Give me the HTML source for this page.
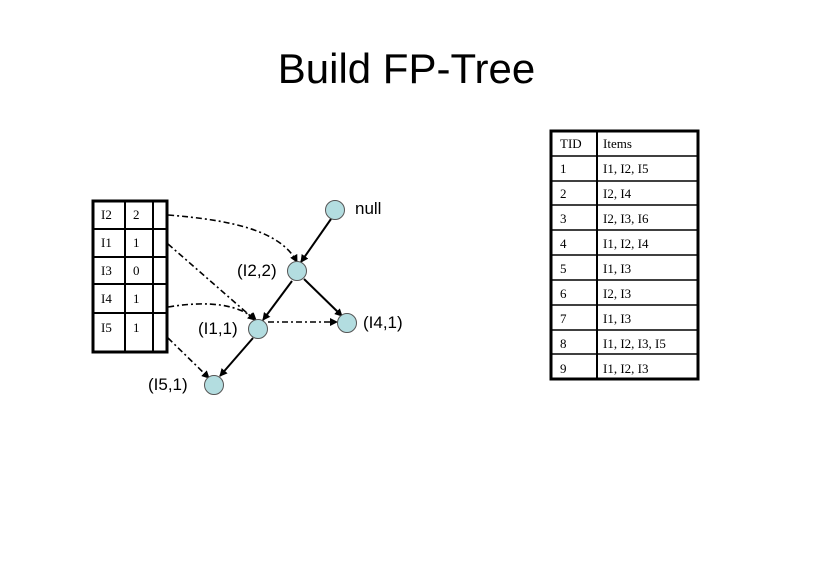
<!DOCTYPE html>
<html><head><style>
body{margin:0;background:#fff;width:813px;height:566px;overflow:hidden;position:relative;font-family:"Liberation Sans",sans-serif}
.t{position:absolute;white-space:nowrap}
.s{font-family:"Liberation Serif",serif;font-size:13px}
</style></head><body>
<div class="t" style="left:0;width:813px;text-align:center;top:45px;font-size:42px">Build FP-Tree</div>
<svg width="813" height="566" style="position:absolute;left:0;top:0">
<defs><marker id="a" markerWidth="8" markerHeight="8" refX="7" refY="4" orient="auto" markerUnits="userSpaceOnUse"><path d="M0,0L8,4L0,8z" fill="#000"/></marker></defs>
<!-- left table -->
<g stroke="#000" fill="none">
<rect x="93" y="201" width="74" height="151" stroke-width="3"/>
<line x1="125" y1="201" x2="125" y2="352" stroke-width="2"/>
<line x1="153" y1="201" x2="153" y2="352" stroke-width="2"/>
<line x1="93" y1="229" x2="167" y2="229" stroke-width="2"/>
<line x1="93" y1="257" x2="167" y2="257" stroke-width="2"/>
<line x1="93" y1="284" x2="167" y2="284" stroke-width="2"/>
<line x1="93" y1="313" x2="167" y2="313" stroke-width="2"/>
</g>
<!-- right table -->
<g stroke="#000" fill="none">
<rect x="551" y="131" width="147" height="248" stroke-width="3"/>
<line x1="597" y1="131" x2="597" y2="379" stroke-width="2"/>
<g stroke-width="1.5">
<line x1="551" y1="156" x2="698" y2="156"/><line x1="551" y1="181" x2="698" y2="181"/>
<line x1="551" y1="205" x2="698" y2="205"/><line x1="551" y1="230" x2="698" y2="230"/>
<line x1="551" y1="255" x2="698" y2="255"/><line x1="551" y1="280" x2="698" y2="280"/>
<line x1="551" y1="305" x2="698" y2="305"/><line x1="551" y1="330" x2="698" y2="330"/>
<line x1="551" y1="354" x2="698" y2="354"/>
</g></g>
<!-- solid edges -->
<g stroke="#000" stroke-width="2" fill="none" marker-end="url(#a)">
<line x1="331" y1="219" x2="301" y2="262"/>
<line x1="304" y1="279" x2="342" y2="316"/>
<line x1="292" y1="281" x2="263" y2="320"/>
<line x1="253" y1="338" x2="220" y2="376"/>
</g>
<!-- dashed -->
<g stroke="#000" stroke-width="1.6" fill="none" stroke-dasharray="6,3,2,3" marker-end="url(#a)">
<path d="M168,215 C230,220 280,230 297,262"/>
<line x1="168" y1="244" x2="255" y2="320"/>
<path d="M168,307 C210,300 240,305 256,320"/>
<line x1="268" y1="322" x2="337" y2="322"/>
<line x1="168" y1="338" x2="209" y2="378"/>
</g>
<g fill="#b3dde0" stroke="#555" stroke-width="1">
<circle cx="335" cy="210" r="9.5"/><circle cx="297" cy="271" r="9.5"/>
<circle cx="258" cy="329" r="9.5"/><circle cx="347" cy="323" r="9.5"/>
<circle cx="214" cy="385" r="9.5"/>
</g>
</svg>
<div class="t s" style="left:101px;top:207px">I2</div><div class="t s" style="left:133px;top:207px">2</div>
<div class="t s" style="left:101px;top:235px">I1</div><div class="t s" style="left:133px;top:235px">1</div>
<div class="t s" style="left:101px;top:263px">I3</div><div class="t s" style="left:133px;top:263px">0</div>
<div class="t s" style="left:101px;top:291px">I4</div><div class="t s" style="left:133px;top:291px">1</div>
<div class="t s" style="left:101px;top:320px">I5</div><div class="t s" style="left:133px;top:320px">1</div>
<div class="t" style="left:355px;top:199px;font-size:17px">null</div>
<div class="t" style="left:237px;top:261px;font-size:17px">(I2,2)</div>
<div class="t" style="left:198px;top:319px;font-size:17px">(I1,1)</div>
<div class="t" style="left:363px;top:313px;font-size:17px">(I4,1)</div>
<div class="t" style="left:148px;top:375px;font-size:17px">(I5,1)</div>
<div class="s t" style="left:560px;top:136px">TID</div><div class="s t" style="left:603px;top:136px">Items</div>
<div class="s t" style="left:560px;top:161px">1</div><div class="s t" style="left:603px;top:161px">I1, I2, I5</div>
<div class="s t" style="left:560px;top:186px">2</div><div class="s t" style="left:603px;top:186px">I2, I4</div>
<div class="s t" style="left:560px;top:211px">3</div><div class="s t" style="left:603px;top:211px">I2, I3, I6</div>
<div class="s t" style="left:560px;top:236px">4</div><div class="s t" style="left:603px;top:236px">I1, I2, I4</div>
<div class="s t" style="left:560px;top:261px">5</div><div class="s t" style="left:603px;top:261px">I1, I3</div>
<div class="s t" style="left:560px;top:286px">6</div><div class="s t" style="left:603px;top:286px">I2, I3</div>
<div class="s t" style="left:560px;top:311px">7</div><div class="s t" style="left:603px;top:311px">I1, I3</div>
<div class="s t" style="left:560px;top:336px">8</div><div class="s t" style="left:603px;top:336px">I1, I2, I3, I5</div>
<div class="s t" style="left:560px;top:361px">9</div><div class="s t" style="left:603px;top:361px">I1, I2, I3</div>
</body></html>
